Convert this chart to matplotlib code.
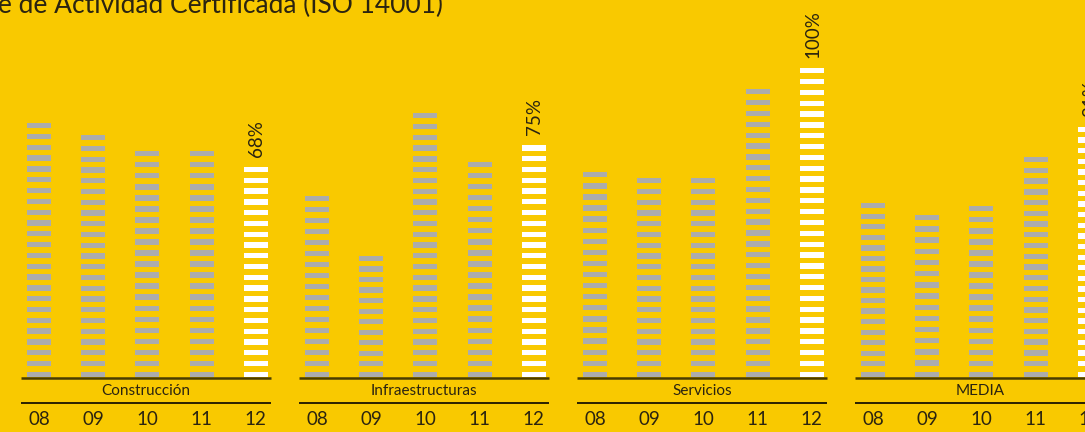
import matplotlib.pyplot as plt
from matplotlib.patches import Rectangle

# % de actividad certificada por área y año
groups = ['Construcción', 'Infraestructuras', 'Servicios', 'MEDIA']
years = ['08', '09', '10', '11', '12']
construccion = [82.2, 78.3, 73.1, 73.1, 68]
infraestructuras = [58.6, 39.2, 85.4, 69.6, 75]
servicios = [66.3, 64.4, 64.4, 93.2, 100]
media = [56.3, 52.4, 55.3, 71.2, 81]
series = [construccion, infraestructuras, servicios, media]

BG = '#f9c900'
GREY = '#acacac'
INK = '#2b2410'

plt.rcParams['font.family'] = ['Lato', 'DejaVu Sans']

fig = plt.figure(figsize=(10.85, 4.32), dpi=100)
fig.patch.set_facecolor(BG)
ax = fig.add_axes([0, 55 / 432, 1, 377 / 432])
ax.set_facecolor(BG)
ax.set_xlim(0, 1085)
ax.set_ylim(0, 100 * 377 / 309)
ax.axis('off')

bar_w = 24
pitch = 54.2
group_gap = 278
first = 39
stripe_h = 1.72
stripe_step = 3.51

for g, (name, vals) in enumerate(zip(groups, series)):
    xs = [first + g * group_gap + i * pitch for i in range(len(vals))]
    for i, (x, v) in enumerate(zip(xs, vals)):
        color = 'white' if i == len(vals) - 1 else GREY
        n = int(round((v - stripe_h) / stripe_step)) + 1
        step = (v - stripe_h) / (n - 1)
        for k in range(n):
            ax.add_patch(Rectangle((x - bar_w / 2, k * step), bar_w, stripe_h,
                                   facecolor=color, edgecolor='none'))
        if i == len(vals) - 1:
            ax.text(x + 1, v + 3.2, f'{v:.0f}%', rotation=90, ha='center', va='bottom',
                    fontsize=13.5, color=INK, clip_on=False)
        ax.text(x, -13.9, years[i], ha='center', va='center', fontsize=13.5,
                color=INK, clip_on=False)
    left = xs[0] - bar_w / 2 - 6
    right = xs[-1] + bar_w / 2 + 3
    ax.plot([left, right], [-0.4, -0.4], color='#4a3c00', lw=1.8,
            solid_capstyle='butt', clip_on=False)
    ax.plot([left, right], [-8.4, -8.4], color='#1a1400', lw=1.3,
            solid_capstyle='butt', clip_on=False)
    ax.text((left + right) / 2, -4.5, name, ha='center', va='center',
            fontsize=11, color=INK, clip_on=False)

fig.text(443 / 1085, 1 - 13 / 432, 'Porcentaje de Actividad Certificada (ISO 14001)',
         ha='right', va='baseline', fontsize=19, color=INK)

fig.savefig('out.png', dpi=100, facecolor=BG)
